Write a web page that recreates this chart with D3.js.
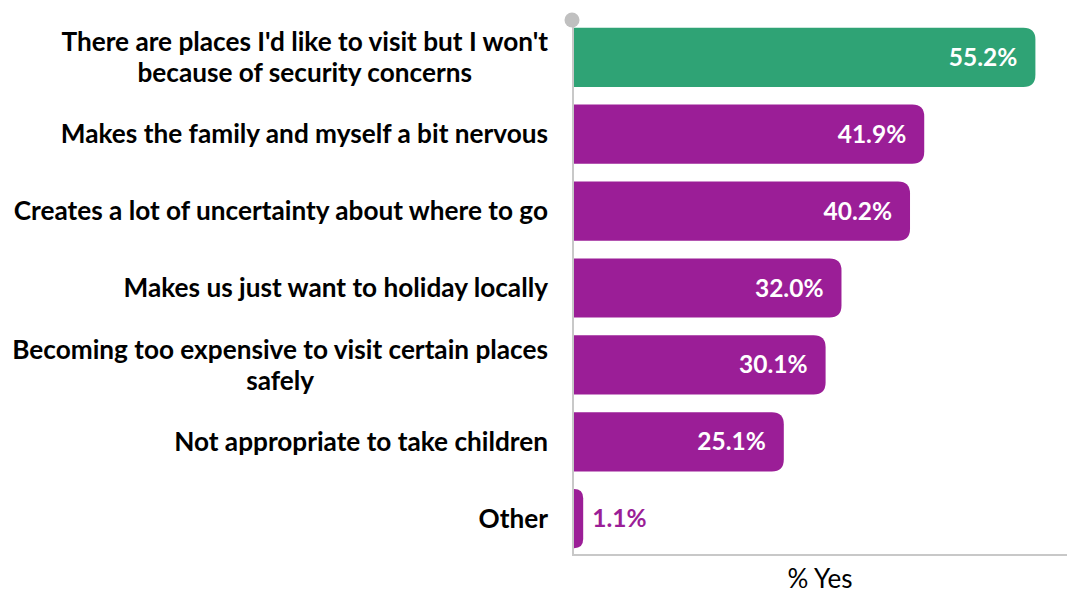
<!DOCTYPE html>
<html>
<head>
<meta charset="utf-8">
<script src="https://cdn.jsdelivr.net/npm/d3@7"></script>
<style>
  html, body { margin: 0; padding: 0; background: #fff; }
  svg { display: block; }
</style>
</head>
<body>
<svg id="chart" width="1067" height="595"></svg>
<script>
const categories = [
  ["There are places I'd like to visit but I won't", "because of security concerns"],
  ["Makes the family and myself a bit nervous"],
  ["Creates a lot of uncertainty about where to go"],
  ["Makes us just want to holiday locally"],
  ["Becoming too expensive to visit certain places", "safely"],
  ["Not appropriate to take children"],
  ["Other"]
];
const values = [55.2, 41.9, 40.2, 32.0, 30.1, 25.1, 1.1];
const highlight = [true, false, false, false, false, false, false];
const axisTitle = "% Yes";

const svg = d3.select("#chart");
const FONT = "Lato, 'Open Sans', sans-serif";
const GREEN = "#2fa375", PURPLE = "#9b1e97", AXIS = "#c8c8c8";

const x0 = 573, xEnd = 1067;
const x = d3.scaleLinear().domain([0, 59.1]).range([x0, xEnd]);
const y = d3.scaleBand().domain(d3.range(values.length)).range([20, 556]).paddingInner(0.23).paddingOuter(0.1);

// axes lines
svg.append("line").attr("x1", x0).attr("x2", xEnd).attr("y1", 555).attr("y2", 555)
  .attr("stroke", AXIS).attr("stroke-width", 2);
svg.append("line").attr("x1", x0).attr("x2", x0).attr("y1", 20).attr("y2", 556)
  .attr("stroke", AXIS).attr("stroke-width", 2);
svg.append("circle").attr("cx", x0 - 1).attr("cy", 20).attr("r", 7.5).attr("fill", "#c0c0c0");

function roundedRight(x1, y1, w, h, r) {
  r = Math.min(r, w, h / 2);
  return `M${x1},${y1}H${x1 + w - r}Q${x1 + w},${y1} ${x1 + w},${y1 + r}V${y1 + h - r}Q${x1 + w},${y1 + h} ${x1 + w - r},${y1 + h}H${x1}Z`;
}

const g = svg.append("g");
values.forEach((v, i) => {
  const by = y(i), bh = y.bandwidth();
  const w = x(v) - x(0);
  const col = highlight[i] ? GREEN : PURPLE;
  g.append("path").attr("d", roundedRight(x(0) + 1, by, w, bh, 12)).attr("fill", col);
  const inside = w > 80;
  g.append("text")
    .attr("x", inside ? x(v) - 17 : x(v) + 10)
    .attr("y", by + bh / 2)
    .attr("dy", "0.35em")
    .attr("text-anchor", inside ? "end" : "start")
    .attr("fill", inside ? "#fff" : PURPLE)
    .attr("font-family", FONT).attr("font-weight", "bold").attr("font-size", 24.5)
    .text(v.toFixed(1) + "%");
});

// category labels
const labRight = 548;
categories.forEach((lines, i) => {
  const cy = y(i) + y.bandwidth() / 2;
  const t = svg.append("text")
    .attr("font-family", FONT).attr("font-weight", "bold").attr("font-size", 26.2)
    .attr("fill", "#000");
  const lh = 31;
  lines.forEach((ln, k) => {
    t.append("tspan").attr("x", 0).attr("y", cy + (k - (lines.length - 1) / 2) * lh).attr("dy", "0.35em").text(ln);
  });
  let maxW = 0;
  t.selectAll("tspan").each(function() { maxW = Math.max(maxW, this.getComputedTextLength()); });
  t.attr("text-anchor", "middle");
  t.selectAll("tspan").attr("x", labRight - maxW / 2);
});

svg.append("text").attr("x", 820).attr("y", 588).attr("text-anchor", "middle")
  .attr("font-family", FONT).attr("font-size", 26).attr("fill", "#000").text(axisTitle);
</script>
</body>
</html>
